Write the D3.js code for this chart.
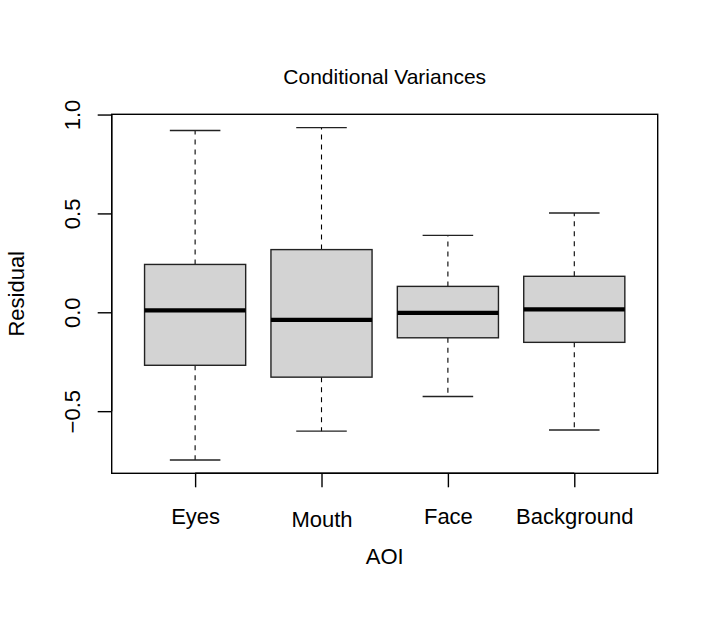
<!DOCTYPE html>
<html>
<head>
<meta charset="utf-8">
<script src="https://cdn.jsdelivr.net/npm/d3@7"></script>
<style>
  body { margin: 0; background: #fff; }
  text { font-family: "Liberation Sans", Arial, Helvetica, sans-serif; fill: #000; }
</style>
</head>
<body>
<svg id="chart"></svg>
<script>
// boxplot stats
const categories = ["Eyes", "Mouth", "Face", "Background"];
const whiskerLow  = [-0.747, -0.601, -0.426, -0.595];
const q1          = [-0.268, -0.328, -0.129, -0.152];
const median      = [ 0.010, -0.038, -0.003,  0.015];
const q3          = [ 0.242,  0.317,  0.131,  0.182];
const whiskerHigh = [ 0.919,  0.934,  0.389,  0.502];
const yTicks = [-0.5, 0.0, 0.5, 1.0];

const width = 716, height = 618;
const plot = { left: 111.7, right: 657.7, top: 114.3, bottom: 473.3 };
const tickLen = 14;

const svg = d3.select("#chart")
    .attr("width", width)
    .attr("height", height);

// R style: extend ranges by 4% each side
const n = categories.length;
const xPad = (n - 1 + 1) * 0.04;
const x = d3.scaleLinear()
    .domain([0.5 - xPad, n + 0.5 + xPad])
    .range([plot.left, plot.right]);

const lo = d3.min(whiskerLow), hi = d3.max(whiskerHigh);
const yPad = (hi - lo) * 0.04;
const y = d3.scaleLinear()
    .domain([lo - yPad, hi + yPad])
    .range([plot.bottom, plot.top]);

const boxes = categories.map((c, i) => ({
    name: c, pos: i + 1,
    lo: whiskerLow[i], q1: q1[i], med: median[i], q3: q3[i], hi: whiskerHigh[i]
}));

const g = svg.append("g");
const boxW = x(1.4) - x(1);   // half of 0.8
const capW = x(1.2) - x(1);   // half of 0.4

const b = g.selectAll("g.box")
    .data(boxes)
    .enter().append("g")
    .attr("class", "box");

// whiskers
b.append("line")
    .attr("x1", d => x(d.pos)).attr("x2", d => x(d.pos))
    .attr("y1", d => y(d.q3)).attr("y2", d => y(d.hi))
    .attr("stroke", "#000").attr("stroke-width", 1.1)
    .attr("stroke-dasharray", "5,5");
b.append("line")
    .attr("x1", d => x(d.pos)).attr("x2", d => x(d.pos))
    .attr("y1", d => y(d.q1)).attr("y2", d => y(d.lo))
    .attr("stroke", "#000").attr("stroke-width", 1.1)
    .attr("stroke-dasharray", "5,5");

// staples
["lo", "hi"].forEach(k => {
    b.append("line")
        .attr("x1", d => x(d.pos) - capW).attr("x2", d => x(d.pos) + capW)
        .attr("y1", d => y(d[k])).attr("y2", d => y(d[k]))
        .attr("stroke", "#222").attr("stroke-width", 1.4);
});

// box
b.append("rect")
    .attr("x", d => x(d.pos) - boxW)
    .attr("width", 2 * boxW)
    .attr("y", d => y(d.q3))
    .attr("height", d => y(d.q1) - y(d.q3))
    .attr("fill", "#d3d3d3")
    .attr("stroke", "#222")
    .attr("stroke-width", 1.4);

// median
b.append("line")
    .attr("x1", d => x(d.pos) - boxW).attr("x2", d => x(d.pos) + boxW)
    .attr("y1", d => y(d.med)).attr("y2", d => y(d.med))
    .attr("stroke", "#000").attr("stroke-width", 4.2);

// frame
svg.append("rect")
    .attr("x", plot.left).attr("y", plot.top)
    .attr("width", plot.right - plot.left)
    .attr("height", plot.bottom - plot.top)
    .attr("fill", "none")
    .attr("stroke", "#000")
    .attr("stroke-width", 1.4);

// y axis
const yAxis = svg.append("g")
    .attr("transform", `translate(${plot.left},0)`)
    .call(d3.axisLeft(y).tickValues(yTicks).tickSize(tickLen).tickSizeOuter(0)
        .tickFormat(d3.format(".1f")));
yAxis.select(".domain").remove();
yAxis.append("line")
    .attr("y1", y(yTicks[0])).attr("y2", y(yTicks[yTicks.length - 1]))
    .attr("stroke", "#000").attr("stroke-width", 1.4);
yAxis.selectAll(".tick line").attr("stroke", "#000").attr("stroke-width", 1.4);
yAxis.selectAll(".tick text")
    .attr("transform", "rotate(-90)")
    .attr("x", 0).attr("y", -31.7).attr("dy", null)
    .attr("text-anchor", "middle")
    .style("font-size", "22px")
    .style("font-family", "'Liberation Sans', Arial, sans-serif")
    .attr("fill", "#000");

// x axis
const xAxis = svg.append("g")
    .attr("transform", `translate(0,${plot.bottom})`)
    .call(d3.axisBottom(x).tickValues(boxes.map(d => d.pos)).tickSize(tickLen)
        .tickSizeOuter(0).tickFormat(d => categories[d - 1]));
xAxis.select(".domain").remove();
xAxis.append("line")
    .attr("x1", x(1)).attr("x2", x(n))
    .attr("stroke", "#000").attr("stroke-width", 1.4);
xAxis.selectAll(".tick line").attr("stroke", "#000").attr("stroke-width", 1.4);
xAxis.selectAll(".tick text")
    .attr("y", d => d === 2 ? 54 : 51).attr("dy", null)
    .style("font-size", "22px")
    .style("font-family", "'Liberation Sans', Arial, sans-serif")
    .attr("fill", "#000");

// titles
const cx = (plot.left + plot.right) / 2;
svg.append("text")
    .attr("x", cx).attr("y", 83.5)
    .attr("text-anchor", "middle")
    .style("font-size", "21px")
    .text("Conditional Variances");

svg.append("text")
    .attr("x", cx).attr("y", 564)
    .attr("text-anchor", "middle")
    .style("font-size", "22px")
    .text("AOI");

svg.append("text")
    .attr("transform", `translate(24,${(plot.top + plot.bottom) / 2}) rotate(-90)`)
    .attr("text-anchor", "middle")
    .style("font-size", "22px")
    .text("Residual");
</script>
</body>
</html>
